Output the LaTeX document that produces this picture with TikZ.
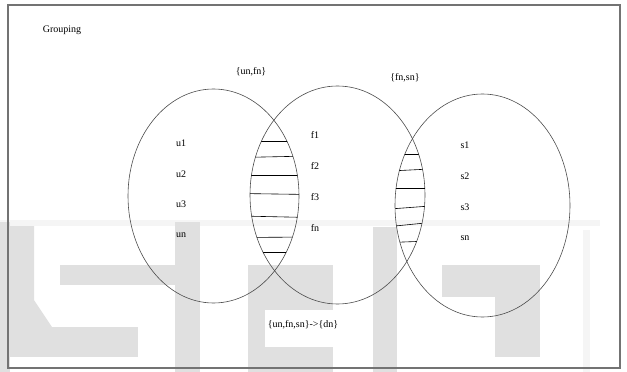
\documentclass[tikz,border=0pt]{standalone}
\usepackage{fontspec}
\setmainfont{Liberation Serif}
\begin{document}
\begin{tikzpicture}[x=1pt,y=-1pt,
  lbl/.style={font=\fontsize{10}{12}\selectfont, inner sep=0pt},
  setline/.style={draw=black!70, line width=0.6pt},
  hatchline/.style={draw=black, line width=0.6pt},
  logo/.style={fill=black!12},
  faint/.style={fill=black!4}]
\useasboundingbox (0,0) rectangle (627,372);

% light background logo
\fill[faint] (0,220) rectangle (600,226);
\fill[faint] (583,230) rectangle (590,372);
\fill[logo] (0,222) rectangle (10,372);
\fill[logo] (10,226) -- (34,226) -- (34,300) -- (52,327) -- (10,327) -- cycle;
\fill[logo] (10,327) rectangle (138,357);
\fill[logo] (60,265) rectangle (200,285);
\fill[logo] (175,222) rectangle (200,372);
\fill[logo] (248,265) rectangle (333,310);
\fill[logo] (248,310) rectangle (265,372);
\fill[logo] (248,347) rectangle (333,372);
\fill[logo] (373,227) rectangle (397,372);
\fill[logo] (442,265) rectangle (540,297);
\fill[logo] (495,297) rectangle (540,357);

% frame
\draw[black!55, line width=1.2pt] (8,5) rectangle (620,368);

% the three sets
\draw[setline] (213.5,196) ellipse [x radius=85.5pt, y radius=107pt];
\draw[setline] (337.5,195) ellipse [x radius=87.5pt, y radius=109pt];
\draw[setline] (482.5,205.5) ellipse [x radius=87.5pt, y radius=111.5pt];

% hatching of {un,fn}
\begin{scope}
  \clip (213.5,196) ellipse [x radius=85.5pt, y radius=107pt];
  \clip (337.5,195) ellipse [x radius=87.5pt, y radius=109pt];
  \foreach \ya/\yb in {141.5/141.5, 157.5/156, 175/175, 193.5/194.5, 216/217.5, 237.5/237, 252.3/252.3}
    \draw[hatchline] (240,\ya) -- (310,\yb);
\end{scope}

% hatching of {fn,sn}
\begin{scope}
  \clip (337.5,195) ellipse [x radius=87.5pt, y radius=109pt];
  \clip (482.5,205.5) ellipse [x radius=87.5pt, y radius=111.5pt];
  \foreach \ya/\yb in {154/154, 171/169, 188/188, 209/206, 226.5/222.5, 242.5/241}
    \draw[hatchline] (390,\ya) -- (430,\yb);
\end{scope}

% labels
\node[lbl] (title) at (62,30) {Grouping};
\node[lbl] (pairuf) at (251,72) {\{un,fn\}};
\node[lbl] (pairfs) at (405,78) {\{fn,sn\}};
\node[lbl] (rule) at (303,325) {\{un,fn,sn\}->\{dn\}};

\node[lbl] (u1) at (181,143) {u1};
\node[lbl] (u2) at (181,174) {u2};
\node[lbl] (u3) at (181,204) {u3};
\node[lbl] (un) at (181,235) {un};

\node[lbl] (f1) at (315,135) {f1};
\node[lbl] (f2) at (315,166) {f2};
\node[lbl] (f3) at (315,197) {f3};
\node[lbl] (fn) at (315,228) {fn};

\node[lbl] (s1) at (465,145) {s1};
\node[lbl] (s2) at (465,176) {s2};
\node[lbl] (s3) at (465,207) {s3};
\node[lbl] (sn) at (465,238) {sn};
\end{tikzpicture}
\end{document}
